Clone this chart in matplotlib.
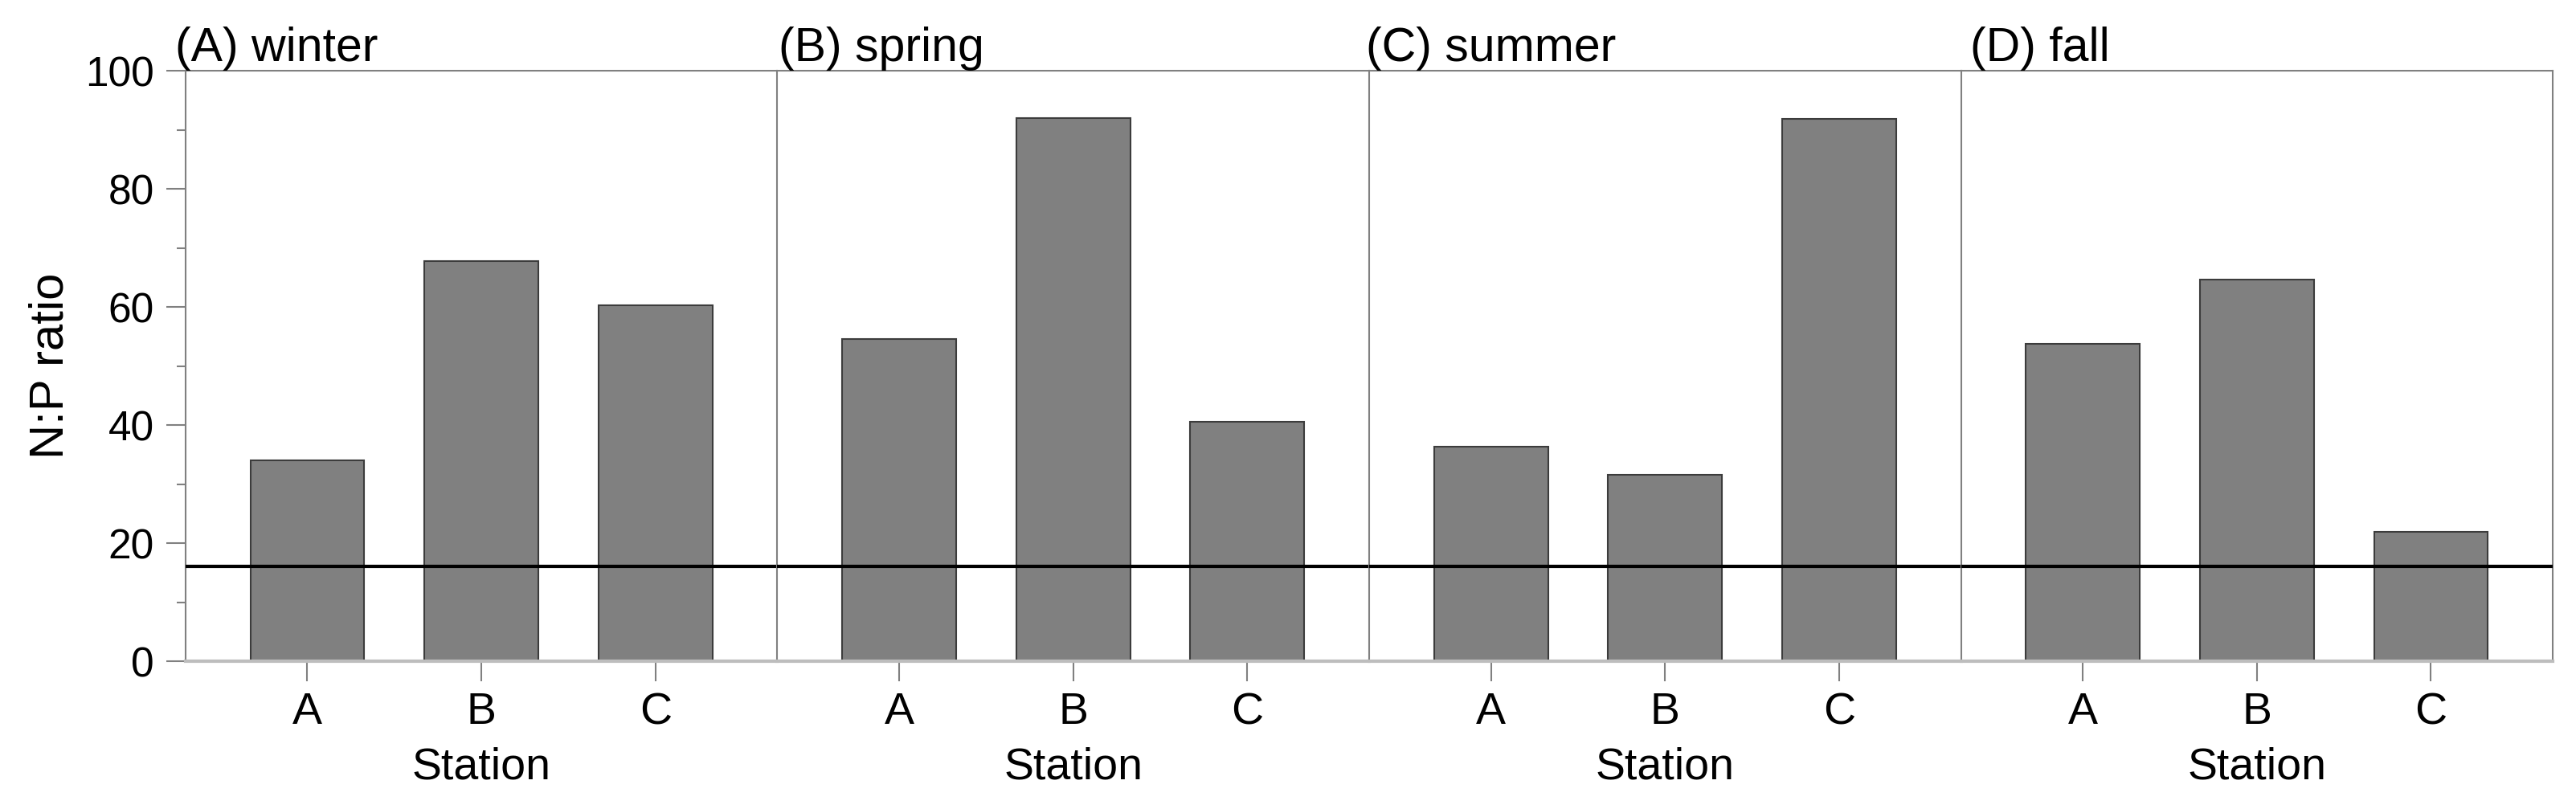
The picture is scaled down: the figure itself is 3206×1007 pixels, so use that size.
import matplotlib
matplotlib.use("Agg")
import matplotlib.pyplot as plt
from matplotlib.ticker import MultipleLocator

plt.rcParams['font.family'] = ['Liberation Sans', 'DejaVu Sans']

stations = ["A", "B", "C"]
seasons = ["(A) winter", "(B) spring", "(C) summer", "(D) fall"]
winter = [34.0, 67.7, 60.3]
spring = [54.5, 92.0, 40.6]
summer = [36.3, 31.5, 91.8]
fall = [53.8, 64.6, 21.9]
redfield = 16

values = [winter, spring, summer, fall]

fig, axes = plt.subplots(1, 4, figsize=(32.06, 10.07), dpi=100, sharey=True)
fig.subplots_adjust(left=0.072, right=0.991, top=0.9126, bottom=0.1827, wspace=0)

spine_col = "#808080"
title_dx = [-9, 1, -3, 8]  # points
for i, (ax, title, vals) in enumerate(zip(axes, seasons, values)):
    x = list(range(len(stations)))
    ax.bar(x, vals, width=0.655, color="#808080", edgecolor="#3c3c3c", linewidth=1.5, zorder=2)
    ax.axhline(redfield, color="black", linewidth=3.0, zorder=3)
    ax.set_xlim(-0.7, 2.7)
    ax.set_ylim(0, 100)
    ax.set_xticks(x)
    ax.set_xticklabels(stations, fontsize=40)
    ax.set_xlabel("Station", fontsize=40, labelpad=12)
    ax.tick_params(axis='x', length=18, width=1.5, color=spine_col, pad=9.5)
    for s in ["top", "right", "left"]:
        ax.spines[s].set_color(spine_col)
        ax.spines[s].set_linewidth(1.5)
    ax.spines["bottom"].set_color("#bdbdbd")
    ax.spines["bottom"].set_linewidth(3)
    if i < 3:
        ax.spines["right"].set_visible(False)
    if i > 0:
        ax.tick_params(axis='y', left=False, which='both')
    ax.annotate(title, xy=(0, 1), xycoords='axes fraction', xytext=(title_dx[i], 0),
                textcoords='offset points', ha='left', va='bottom', fontsize=42.5)

ax0 = axes[0]
ax0.yaxis.set_major_locator(MultipleLocator(20))
ax0.yaxis.set_minor_locator(MultipleLocator(10))
ax0.tick_params(axis='y', which='major', length=17, width=1.5, color=spine_col, labelsize=37, pad=11)
ax0.tick_params(axis='y', which='minor', length=8, width=1.5, color=spine_col)
ax0.set_ylabel("N:P ratio", fontsize=43, labelpad=11)

fig.savefig("out.png", dpi=100)
